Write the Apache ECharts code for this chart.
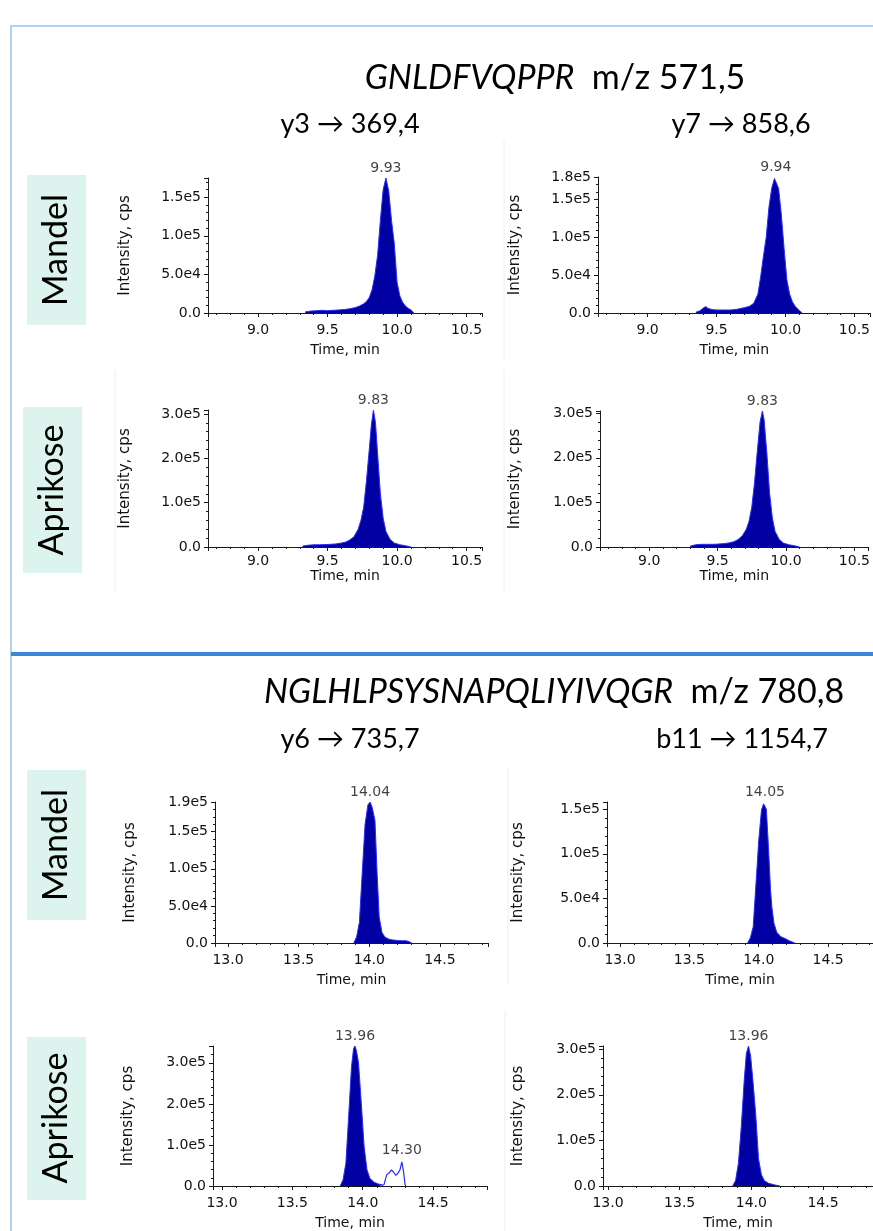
<!DOCTYPE html>
<html><head><meta charset="utf-8">
<script src="https://cdn.jsdelivr.net/npm/echarts@6/dist/echarts.min.js"></script>
<style>html,body{margin:0;padding:0;background:#fff}#c{width:873px;height:1231px}</style>
</head><body><div id="c"></div><script>
// ---------- text content ----------
const peptides = ['GNLDFVQPPR', 'NGLHLPSYSNAPQLIYIVQGR'];
const precursors = ['m/z 571,5', 'm/z 780,8'];
const transitions = ['y3 \u2192 369,4', 'y7 \u2192 858,6', 'y6 \u2192 735,7', 'b11 \u2192 1154,7'];
const samples = ['Mandel', 'Aprikose'];
const peakLabels = ['9.93', '9.94', '9.83', '9.83', '14.04', '14.05', '13.96', '13.96'];
const extraPeakLabel = '14.30';
const yAxisName = 'Intensity, cps';
const xAxisName = 'Time, min';

// ---------- chromatogram data (time in min, intensity in cps) ----------
const p1Time = [9.34, 9.38, 9.42, 9.46, 9.50, 9.54, 9.58, 9.62, 9.66, 9.70, 9.73, 9.76, 9.78, 9.80, 9.82, 9.84, 9.86, 9.88, 9.90, 9.92, 9.94, 9.96, 9.98, 10.00, 10.02, 10.04, 10.06, 10.08, 10.10, 10.12];
const p1Int  = [1500, 2500, 3000, 3500, 3000, 3500, 4000, 4500, 5500, 7000, 9000, 12000, 15000, 20000, 30000, 48000, 75000, 120000, 160000, 175000, 158000, 120000, 90000, 40000, 22000, 14000, 9000, 6000, 4000, 0];

const p2Time = [9.35, 9.38, 9.40, 9.42, 9.44, 9.47, 9.50, 9.55, 9.60, 9.65, 9.70, 9.74, 9.77, 9.80, 9.82, 9.84, 9.86, 9.88, 9.90, 9.92, 9.93, 9.95, 9.97, 9.99, 10.01, 10.03, 10.05, 10.07, 10.09, 10.12];
const p2Int  = [1000, 3000, 6000, 8500, 6000, 4500, 4000, 4000, 4000, 5000, 7000, 9000, 13000, 25000, 48000, 75000, 100000, 140000, 165000, 178000, 180000, 165000, 130000, 85000, 44000, 25000, 15000, 9000, 5000, 0];

const p3Time = [9.32, 9.36, 9.40, 9.44, 9.48, 9.52, 9.56, 9.60, 9.63, 9.66, 9.69, 9.72, 9.74, 9.76, 9.78, 9.80, 9.815, 9.83, 9.845, 9.86, 9.88, 9.90, 9.92, 9.95, 9.98, 10.02, 10.06, 10.10];
const p3Int  = [2000, 4000, 5000, 5000, 5500, 6000, 7000, 9000, 11000, 16000, 23000, 40000, 60000, 90000, 150000, 220000, 275000, 309000, 280000, 210000, 120000, 65000, 35000, 17000, 9000, 5000, 3000, 0];

const p4Time = [9.30, 9.34, 9.38, 9.42, 9.46, 9.50, 9.54, 9.58, 9.62, 9.65, 9.68, 9.71, 9.73, 9.75, 9.77, 9.79, 9.81, 9.827, 9.84, 9.86, 9.88, 9.90, 9.92, 9.95, 9.98, 10.02, 10.06, 10.10];
const p4Int  = [2000, 5000, 6000, 6000, 6000, 6500, 7500, 9000, 12000, 17000, 25000, 40000, 58000, 90000, 145000, 215000, 280000, 305000, 285000, 210000, 120000, 65000, 35000, 17000, 9000, 5000, 3000, 0];

const p5Time = [13.89, 13.91, 13.93, 13.95, 13.97, 13.99, 14.005, 14.02, 14.04, 14.055, 14.07, 14.09, 14.11, 14.14, 14.17, 14.20, 14.23, 14.26, 14.28, 14.30];
const p5Int  = [0, 8000, 28000, 95000, 160000, 186000, 190000, 183000, 165000, 95000, 35000, 14000, 8000, 5000, 4000, 3500, 3000, 3000, 2000, 0];

const p6Time = [13.92, 13.94, 13.96, 13.985, 14.00, 14.02, 14.035, 14.045, 14.055, 14.07, 14.085, 14.095, 14.11, 14.13, 14.16, 14.19, 14.22, 14.26];
const p6Int  = [0, 6000, 18000, 78000, 115000, 149000, 156000, 158000, 150000, 108000, 60000, 40000, 22000, 12000, 7000, 5000, 2500, 0];

const p7Time = [13.84, 13.86, 13.88, 13.90, 13.92, 13.935, 13.945, 13.955, 13.97, 13.99, 14.01, 14.03, 14.05, 14.08, 14.11, 14.15];
const p7Int  = [0, 15000, 55000, 170000, 290000, 335000, 341000, 330000, 300000, 200000, 95000, 40000, 19000, 9000, 5000, 2000];
const p7TraceTime = [14.15, 14.17, 14.19, 14.205, 14.22, 14.235, 14.25, 14.265, 14.278, 14.29, 14.30, 14.305];
const p7TraceInt  = [2000, 27000, 33000, 39000, 33000, 26000, 31000, 40000, 59000, 35000, 5000, 0];

const p8Time = [13.87, 13.89, 13.91, 13.93, 13.95, 13.965, 13.98, 13.995, 14.01, 14.03, 14.05, 14.07, 14.09, 14.12, 14.16, 14.20];
const p8Int  = [0, 12000, 50000, 130000, 230000, 290000, 307000, 285000, 235000, 160000, 60000, 25000, 12000, 6000, 2500, 0];

// ---------- layout (pixels) ----------
const panels = [
  {t: p1Time, v: p1Int, left: 208, top: 178, width: 274, height: 135, xmin: 8.64, xmax: 10.611, ymax: 175000, yint: 50000, showMax: false, yGap: 75, xGap: 30, xm: 10},
  {t: p2Time, v: p2Int, left: 598, top: 177, width: 275, height: 136, xmin: 8.64, xmax: 10.618, ymax: 180000, yint: 50000, showMax: true, yGap: 75, xGap: 30, xm: 10},
  {t: p3Time, v: p3Int, left: 208, top: 410, width: 274, height: 137, xmin: 8.64, xmax: 10.611, ymax: 309000, yint: 100000, showMax: false, yGap: 75, xGap: 20, xm: 7},
  {t: p4Time, v: p4Int, left: 600, top: 411, width: 273, height: 136, xmin: 8.64, xmax: 10.604, ymax: 305000, yint: 100000, showMax: false, yGap: 77, xGap: 20, xm: 7},
  {t: p5Time, v: p5Int, left: 215, top: 802, width: 273, height: 141, xmin: 12.908, xmax: 14.84, ymax: 190000, yint: 50000, showMax: true, yGap: 77, xGap: 30, xm: 10},
  {t: p6Time, v: p6Int, left: 607, top: 802, width: 266, height: 141, xmin: 12.906, xmax: 14.824, ymax: 158000, yint: 50000, showMax: false, yGap: 81, xGap: 30, xm: 10},
  {t: p7Time, v: p7Int, left: 213, top: 1046, width: 274, height: 140, xmin: 12.936, xmax: 14.883, ymax: 341000, yint: 100000, showMax: false, yGap: 77, xGap: 30, xm: 10},
  {t: p8Time, v: p8Int, left: 603, top: 1046, width: 270, height: 140, xmin: 12.965, xmax: 14.849, ymax: 307000, yint: 100000, showMax: false, yGap: 77, xGap: 30, xm: 10}
];

const SMALL = 'DejaVu Sans';
const BIG = 'Lato';
const fillColor = '#0000a3';
const traceColor = '#2b2bff';
const axisColor = '#1a1a1a';

function zip(t, v) { return t.map((x, i) => [x, v[i]]); }
function argmax(v) { let k = 0; v.forEach((y, i) => { if (y > v[k]) k = i; }); return k; }
function yFmt(val) { if (val === 0) return '0.0'; return val.toExponential(1).replace('e+', 'e'); }

const grid = [], xAxis = [], yAxis = [], series = [];
panels.forEach((p, i) => {
  grid.push({left: p.left, top: p.top, width: p.width, height: p.height, containLabel: false});
  xAxis.push({
    type: 'value', gridIndex: i, min: p.xmin, max: p.xmax, splitNumber: 4,
    name: xAxisName, nameLocation: 'middle', nameGap: p.xGap,
    nameTextStyle: {fontFamily: SMALL, fontSize: 14, color: '#111'},
    axisLine: {lineStyle: {color: axisColor, width: 1}},
    axisTick: {show: true, inside: false, length: 4, lineStyle: {color: axisColor}},
    minorTick: {show: true, splitNumber: 5, length: 2, lineStyle: {color: axisColor}},
    axisLabel: {fontFamily: SMALL, fontSize: 14, color: '#111', margin: p.xm, showMinLabel: false, showMaxLabel: false,
      formatter: v => v.toFixed(1)},
    splitLine: {show: false}
  });
  yAxis.push({
    type: 'value', gridIndex: i, min: 0, max: p.ymax, interval: p.yint,
    name: yAxisName, nameLocation: 'middle', nameGap: p.yGap,
    nameTextStyle: {fontFamily: SMALL, fontSize: 15, color: '#111'},
    axisLine: {show: true, lineStyle: {color: axisColor, width: 1}},
    axisTick: {show: true, inside: false, length: 4, lineStyle: {color: axisColor}},
    minorTick: {show: true, splitNumber: 5, length: 2, lineStyle: {color: axisColor}},
    axisLabel: {fontFamily: SMALL, fontSize: 14, color: '#111', margin: 7, showMaxLabel: p.showMax, formatter: yFmt},
    splitLine: {show: false}
  });
  series.push({
    type: 'line', xAxisIndex: i, yAxisIndex: i, data: zip(p.t, p.v), symbol: 'none', silent: true,
    lineStyle: {color: traceColor, width: 1}, areaStyle: {color: fillColor, opacity: 1}, clip: false
  });
  const k = argmax(p.v);
  series.push({
    type: 'scatter', xAxisIndex: i, yAxisIndex: i, symbolSize: 0, silent: true,
    data: [[p.t[k], p.v[k]]],
    label: {show: true, position: 'top', distance: 3, formatter: peakLabels[i],
      fontFamily: SMALL, fontSize: 14, color: '#111'}
  });
});
// unfilled trace of second peak (Aprikose, y6)
series.push({
  type: 'line', xAxisIndex: 6, yAxisIndex: 6, data: zip(p7TraceTime, p7TraceInt), symbol: 'none', silent: true,
  lineStyle: {color: traceColor, width: 1.2}
});
const k7 = argmax(p7TraceInt);
series.push({
  type: 'scatter', xAxisIndex: 6, yAxisIndex: 6, symbolSize: 0, silent: true,
  data: [[p7TraceTime[k7], p7TraceInt[k7]]],
  label: {show: true, position: 'top', distance: 4, formatter: extraPeakLabel, fontFamily: SMALL, fontSize: 14, color: '#111'}
});

// ---------- decorations ----------
const boxFill = '#dcf3ee';
function box(x, y, w, h) { return {type: 'rect', shape: {x, y, width: w, height: h}, style: {fill: boxFill}, z: 0}; }
function vtext(cx, cy, txt) {
  return {type: 'text', x: cx, y: cy, rotation: Math.PI / 2, z: 2,
    style: {text: txt, fontFamily: BIG, fontSize: 34, fill: '#000', align: 'center', verticalAlign: 'middle'}};
}
function htext(cx, cy, txt, size) {
  return {type: 'text', x: cx, y: cy, z: 2,
    style: {text: txt, fontFamily: BIG, fontSize: size, fill: '#000', align: 'center', verticalAlign: 'middle'}};
}
function title(cx, cy, pep, mz) {
  return {type: 'text', x: cx, y: cy, z: 2,
    style: {text: '{a|' + pep + '}  ' + mz, fontFamily: BIG, fontSize: 34, fill: '#000', align: 'center', verticalAlign: 'middle',
      rich: {a: {fontFamily: BIG, fontSize: 34, fontStyle: 'italic', fill: '#000'}}}};
}
function line(x1, y1, x2, y2, color, w) {
  return {type: 'line', shape: {x1, y1, x2, y2}, style: {stroke: color, lineWidth: w}, z: 1};
}
const graphic = [
  line(11, 26, 873, 26, '#aed0f6', 2),
  line(11, 25, 11, 1231, '#aed0f6', 2),
  line(11, 654, 873, 654, '#3a86d8', 4),
  line(504, 140, 504, 360, '#eeeeee', 1),
  line(115, 370, 115, 592, '#eeeeee', 1),
  line(504, 370, 504, 592, '#eeeeee', 1),
  line(508, 768, 508, 985, '#eeeeee', 1),
  line(505, 1010, 505, 1231, '#eeeeee', 1),
  box(27, 175, 59, 150), box(23, 407, 59, 166), box(27, 770, 59, 150), box(27, 1037, 59, 163),
  vtext(56, 250, samples[0]), vtext(52, 490, samples[1]), vtext(56, 845, samples[0]), vtext(56, 1118, samples[1]),
  title(555, 78, peptides[0], precursors[0]),
  title(554, 692, peptides[1], precursors[1]),
  htext(350, 124, transitions[0], 27), htext(741, 124, transitions[1], 27),
  htext(350, 739, transitions[2], 27), htext(742, 739, transitions[3], 27)
];

const chart = echarts.init(document.getElementById('c'), null, {renderer: 'canvas'});
chart.setOption({
  animation: false, backgroundColor: '#ffffff',
  grid, xAxis, yAxis, series, graphic
});
</script></body></html>
